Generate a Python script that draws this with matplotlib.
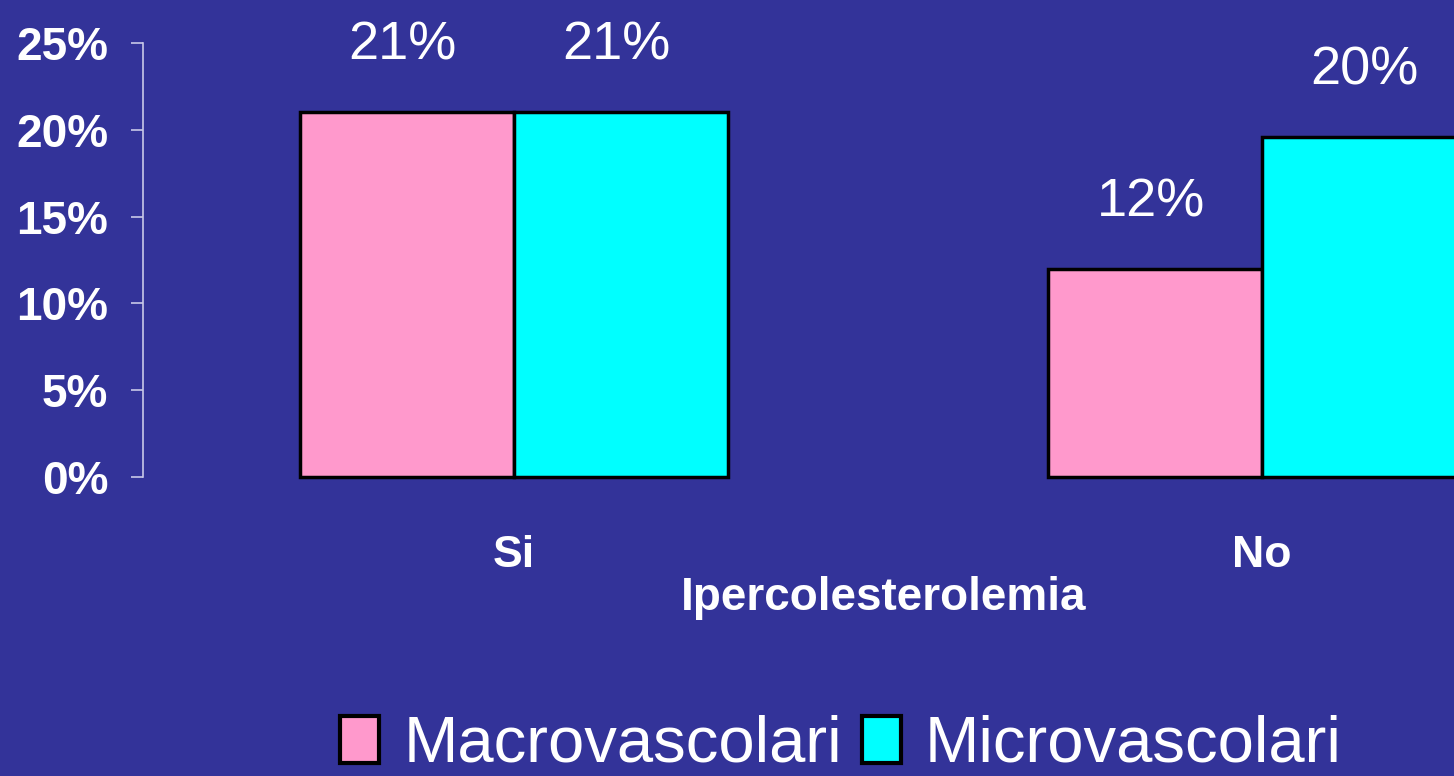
import matplotlib
matplotlib.use("Agg")
import matplotlib.pyplot as plt
import numpy as np

categories = ["Si", "No"]
macro = [21, 12]
micro = [21, 19.6]
macro_labels = ["21%", "12%"]
micro_labels = ["21%", "20%"]
yticks = [0, 5, 10, 15, 20, 25]

bg = "#333399"
pink = "#FF99CC"
cyan = "#00FFFF"

plt.rcParams["font.family"] = ["Liberation Sans", "DejaVu Sans"]

fig = plt.figure(figsize=(14.54, 7.76), dpi=100, facecolor=bg)
ax = fig.add_axes([143 / 1454, 1 - 477 / 776, 1 - 143 / 1454, (477 - 43) / 776])
ax.set_facecolor(bg)

x = np.arange(len(categories))
w = 0.286
b1 = ax.bar(x - w / 2, macro, w, color=pink, edgecolor="black", linewidth=2.5,
            label="Macrovascolari", clip_on=False)
b2 = ax.bar(x + w / 2, micro, w, color=cyan, edgecolor="black", linewidth=2.5,
            label="Microvascolari", clip_on=False)

for bars, labs in ((b1, macro_labels), (b2, micro_labels)):
    for r, t in zip(bars, labs):
        ax.annotate(t, (r.get_x() + r.get_width() / 2, r.get_height()),
                    xytext=(-3, 48), textcoords="offset points",
                    ha="center", va="center", color="white", fontsize=39)

ax.set_xlim(-0.496, 1.257)
ax.set_ylim(0, 25)
ax.set_yticks(yticks)
ax.set_yticklabels([f"{v}%" for v in yticks], fontsize=33, fontweight="bold", color="white")
ax.tick_params(axis="y", length=9, width=1.2, color="#C8C8E8", pad=16)
ax.set_xticks(x)
ax.set_xticklabels(categories, fontsize=32, fontweight="bold", color="white")
ax.tick_params(axis="x", length=0, pad=42)

for s in ("top", "right", "bottom"):
    ax.spines[s].set_visible(False)
ax.spines["left"].set_color("#C8C8E8")
ax.spines["left"].set_linewidth(1.2)

fig.text(884 / 1454, 1 - 598 / 776, "Ipercolesterolemia", ha="center", va="center",
         fontsize=33, fontweight="bold", color="white")

leg = fig.legend(handles=[b1, b2], loc="center", bbox_to_anchor=(841 / 1454, 1 - 745 / 776),
                 ncol=2, frameon=False, fontsize=47, handlelength=0.6, handleheight=0.74,
                 handletextpad=0.37, columnspacing=0.3, borderaxespad=0, borderpad=0)
for t in leg.get_texts():
    t.set_color("white")
for h in leg.legend_handles:
    h.set_linewidth(3)

fig.savefig("out.png", dpi=100, facecolor=bg)
